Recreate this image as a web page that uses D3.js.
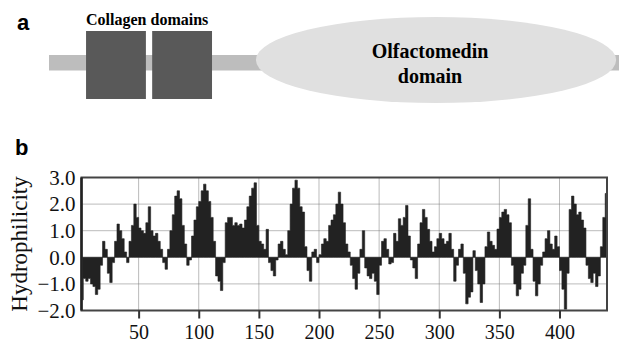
<!DOCTYPE html>
<html>
<head>
<meta charset="utf-8">
<script src="https://cdn.jsdelivr.net/npm/d3@7"></script>
<style>
  body { margin: 0; background: #fff; }
  svg { display: block; }
  .serif { font-family: "Liberation Serif", "Times New Roman", serif; }
  .bserif { font-family: "Times New Roman", "Liberation Serif", "DejaVu Serif", serif; font-weight: 700; }
  .sans { font-family: "Liberation Sans", Arial, sans-serif; font-weight: bold; }
</style>
</head>
<body>
<svg id="chart" width="619" height="342"></svg>
<script>
// panel a: schematic, in arbitrary units 0..100 along the protein
var collagenBoxes = [[6.5, 17.0], [18.1, 28.6]];
var olfactomedin = [36.3, 99.5];
var olfLines = ["Olfactomedin", "domain"];

// panel b: hydrophilicity profile, one value every 2 residues starting at residue 3
var firstResidue = 3, residueStep = 2;
var hydro = [
  -1.6, -0.8, -0.9, -0.8, -1.0, -1.1, -1.4, -1.2, -0.3, 0.6,
  0.3, -0.6, -0.95, -0.2, 0.6, 1.25, 1.0, 0.7, 0.2, -0.2,
  0.6, 1.2, 2.0, 1.5, 1.1, 1.0, 0.9, 1.3, 1.9, 1.0,
  0.8, 0.9, 0.6, 0.3, -0.2, -0.45, 0.3, 1.0, 1.6, 2.3,
  2.5, 2.2, 1.2, 0.5, -0.3, -0.1, 0.8, 1.4, 1.9, 2.1,
  2.5, 2.75, 2.5, 2.1, 1.5, 0.6, -0.7, -0.9, -1.25, -0.2,
  1.3, 1.5, 1.5, 1.2, 1.3, 1.2, 1.25, 1.1, 1.4, 1.9,
  2.3, 2.6, 2.8, 1.2, 0.6, 0.5, 0.3, 1.05, -0.2, -0.5,
  -0.7, -0.1, 0.5, 0.6, 0.3, 0.1, 1.0, 2.0, 2.6, 2.9,
  2.6, 1.9, 1.7, 0.4, -0.5, -0.9, 0.2, 0.3, -0.2, 0.1,
  0.5, 0.7, 0.6, 1.2, 1.4, 1.6, 2.0, 2.45, 2.0, 1.3,
  0.5, 0.2, -0.3, -0.8, -1.2, -0.6, 0.3, 1.0, -0.4, -0.7,
  -0.8, -0.6, -0.9, -1.4, -0.3, 0.6, 0.7, 0.3, -0.25, -0.2,
  0.9, 0.6, 1.45, 1.2, 1.5, 1.95, 0.8, -0.1, -0.4, -0.8,
  0.5, 1.3, 1.8, 1.5, 1.05, 0.6, 0.2, 0.4, 0.7, 0.9,
  0.7, 0.5, 0.6, 0.9, 0.3, -0.9, -0.3, 0.3, 0.5, -0.6,
  -1.75, -1.5, -1.3, 0.25, -0.5, -1.0, -1.7, -1.0, 0.4, 0.95,
  0.6, 0.45, 0.3, 1.06, 1.5, 1.7, 1.8, 1.6, 1.3, -0.3,
  -1.0, -1.45, -1.2, -0.6, -0.3, 1.2, 2.2, 0.3, -0.9, -1.45,
  -1.0, -0.3, 0.2, 0.7, 1.0, 0.5, 0.3, 0.8, 0.4, -0.5,
  -1.2, -1.95, -0.6, 1.8, 2.3, 2.0, 1.6, 1.7, 1.4, 1.1,
  -0.3, -0.8, -0.95, -0.6, -1.1, -0.7, 0.4, 1.5, 2.4
];
var xTicks = [50, 100, 150, 200, 250, 300, 350, 400];
var yTicks = [3.0, 2.0, 1.0, 0.0, -1.0, -2.0];
var yGrid = [2.0, 1.0, 0.0, -1.0];

var svg = d3.select("#chart");

// ---- panel a
var ax = d3.scaleLinear().domain([0, 100]).range([49, 619]);

svg.append("text").attr("class", "sans").attr("x", 17).attr("y", 30)
   .style("font-size", "22px")
   .text("a");

svg.append("rect")
   .attr("x", ax(0)).attr("y", 55)
   .attr("width", ax(100) - ax(0) + 10).attr("height", 15.5)
   .attr("fill", "#bdbdbd");

svg.selectAll("rect.col")
   .data(collagenBoxes)
   .enter().append("rect")
   .attr("class", "col")
   .attr("x", function (d) { return ax(d[0]); })
   .attr("y", 31)
   .attr("width", function (d) { return ax(d[1]) - ax(d[0]); })
   .attr("height", 68)
   .attr("fill", "#595959");

svg.append("text").attr("class", "bserif")
   .attr("x", ax(collagenBoxes[0][0])).attr("y", 25)
   .style("font-size", "16px")
   .text("Collagen domains");

svg.append("ellipse")
   .attr("cx", (ax(olfactomedin[0]) + ax(olfactomedin[1])) / 2)
   .attr("cy", 60)
   .attr("rx", (ax(olfactomedin[1]) - ax(olfactomedin[0])) / 2)
   .attr("ry", 43)
   .attr("fill", "#e0e0e0");

svg.selectAll("text.olf")
   .data(olfLines)
   .enter().append("text")
   .attr("class", "olf bserif")
   .attr("x", 430)
   .attr("y", function (d, i) { return 58 + i * 25; })
   .attr("text-anchor", "middle")
   .style("font-size", "20px")
   .text(function (d) { return d; });

// ---- panel b
svg.append("text").attr("class", "sans").attr("x", 15).attr("y", 155)
   .style("font-size", "22px")
   .text("b");

var x = d3.scaleLinear().domain([2.5, 439.5]).range([81.5, 607]);
var y = d3.scaleLinear().domain([-2, 3]).range([310.5, 177.5]);

var plot = svg.append("g");

// dotted grid
plot.selectAll("line.hg")
    .data(yGrid)
    .enter().append("line")
    .attr("x1", x.range()[0]).attr("x2", x.range()[1])
    .attr("y1", function (d) { return y(d); })
    .attr("y2", function (d) { return y(d); })
    .attr("stroke", "#777").attr("stroke-width", 1)
    .attr("stroke-dasharray", "1,1");

plot.selectAll("line.vg")
    .data(xTicks)
    .enter().append("line")
    .attr("y1", y.range()[0]).attr("y2", y.range()[1])
    .attr("x1", function (d) { return x(d); })
    .attr("x2", function (d) { return x(d); })
    .attr("stroke", "#777").attr("stroke-width", 1)
    .attr("stroke-dasharray", "1,1");

// profile drawn as a stepped area around zero
var area = d3.area()
    .x(function (d, i) { return x(firstResidue + i * residueStep); })
    .y0(y(0))
    .y1(function (d) { return y(d); })
    .curve(d3.curveStep);

plot.append("path")
    .datum(hydro)
    .attr("d", area)
    .attr("fill", "#222")
    .attr("stroke", "#222").attr("stroke-width", 0.6);

// frame
plot.append("rect")
    .attr("x", x.range()[0]).attr("y", y.range()[1])
    .attr("width", x.range()[1] - x.range()[0])
    .attr("height", y.range()[0] - y.range()[1])
    .attr("fill", "none").attr("stroke", "#444").attr("stroke-width", 2);
plot.append("line")
    .attr("x1", x.range()[0]).attr("x2", x.range()[0])
    .attr("y1", y.range()[1]).attr("y2", y.range()[0])
    .attr("stroke", "#222").attr("stroke-width", 2.5);

// axes
var yAxis = svg.append("g")
    .attr("transform", "translate(" + x.range()[0] + ",0)")
    .call(d3.axisLeft(y).tickValues(yTicks).tickSize(0).tickPadding(6)
          .tickFormat(d3.format(".1f")));
yAxis.select(".domain").remove();
yAxis.selectAll("text").attr("class", "serif")
     .style("font-size", "21px").attr("fill", "#111");

var xAxis = svg.append("g")
    .attr("transform", "translate(0," + y.range()[0] + ")")
    .call(d3.axisBottom(x).tickValues(xTicks).tickSize(8).tickPadding(6));
xAxis.select(".domain").remove();
xAxis.selectAll("line").attr("stroke", "#333").attr("stroke-width", 2);
xAxis.selectAll("text").attr("class", "serif")
     .style("font-size", "20px").attr("fill", "#111");

svg.append("text").attr("class", "serif")
   .attr("transform", "translate(27,244) rotate(-90)")
   .attr("text-anchor", "middle")
   .style("font-size", "23px")
   .attr("fill", "#111")
   .text("Hydrophilicity");
</script>
</body>
</html>
